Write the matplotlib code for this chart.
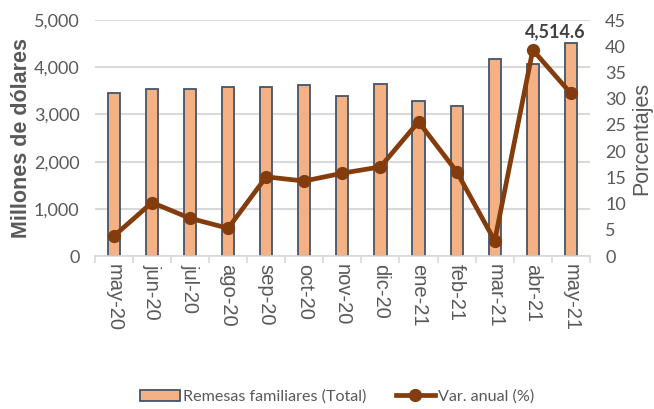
import matplotlib.pyplot as plt
import numpy as np

months = ["may-20", "jun-20", "jul-20", "ago-20", "sep-20", "oct-20", "nov-20",
          "dic-20", "ene-21", "feb-21", "mar-21", "abr-21", "may-21"]
remesas = [3453, 3530, 3530, 3590, 3590, 3615, 3396, 3636, 3290, 3178, 4167, 4061, 4514.6]
var_anual = [3.8, 10.2, 7.2, 5.3, 15.1, 14.3, 15.8, 17.0, 25.6, 16.1, 2.9, 39.3, 31.0]

txt = "#595959"
narrow = ["Lato", "DejaVu Sans"]
arial = ["Liberation Sans", "DejaVu Sans"]
plt.rcParams["font.family"] = narrow

fig = plt.figure(figsize=(6.54, 4.09), dpi=100)
ax = fig.add_axes([0.145, 0.374, 0.757, 0.577])
ax2 = ax.twinx()

x = np.arange(len(months))
ax.bar(x, remesas, width=0.32, color="#F4B183", edgecolor="#44546A", linewidth=1.3,
       label="Remesas familiares (Total)", zorder=2)
ax2.plot(x, var_anual, color="#843C0C", lw=3.4, marker="o", ms=8.5,
         label="Var. anual (%)", zorder=3)

ax.set_ylim(0, 5000)
ax.set_yticks(np.arange(0, 5001, 1000))
ax.set_yticklabels([f"{v:,}" for v in range(0, 5001, 1000)])
ax2.set_ylim(0, 45)
ax2.set_yticks(np.arange(0, 46, 5))
ax.set_xlim(-0.5, len(months) - 0.5)
ax.grid(axis="y", color="#D9D9D9", lw=1.5, zorder=0)
ax.set_axisbelow(True)

for a in (ax, ax2):
    for s in a.spines.values():
        s.set_visible(False)
    a.tick_params(axis="y", length=0, labelsize=13, colors=txt, pad=11)
ax.spines["bottom"].set_visible(True)
ax.spines["bottom"].set_color("#D9D9D9")
ax.spines["bottom"].set_linewidth(1.2)

ax.set_xticks(x)
ax.set_xticklabels(months, rotation=270, fontsize=14.5, color=txt, family=arial)
ax.tick_params(axis="x", length=0, pad=6)
ax.set_xticks(np.arange(-0.5, len(months), 1), minor=True)
ax.tick_params(axis="x", which="minor", length=5, color="#D9D9D9", width=1.2)

ax.set_ylabel("Millones de dólares", fontsize=15.5, color=txt, fontweight="bold",
              family=arial, va="center")
ax.yaxis.set_label_coords(-0.148, 0.5)
ax2.set_ylabel("Porcentajes", fontsize=15.5, color=txt, family=arial, va="center")
ax2.yaxis.set_label_coords(1.104, 0.5)

ax.annotate(f"{remesas[-1]:,.1f}", xy=(x[-1], remesas[-1]), xytext=(-11, 2),
            textcoords="offset points", ha="center", va="bottom",
            fontsize=13, fontweight="bold", color="#404040")

h1, l1 = ax.get_legend_handles_labels()
h2, l2 = ax2.get_legend_handles_labels()
fig.legend(h1 + h2, l1 + l2, loc="center", bbox_to_anchor=(0.516, 0.03), ncol=2,
           frameon=False, fontsize=11.6, labelcolor=txt, handlelength=2.45,
           handletextpad=0.2, columnspacing=1.8)

plt.savefig("out.png", dpi=100, facecolor="white")
